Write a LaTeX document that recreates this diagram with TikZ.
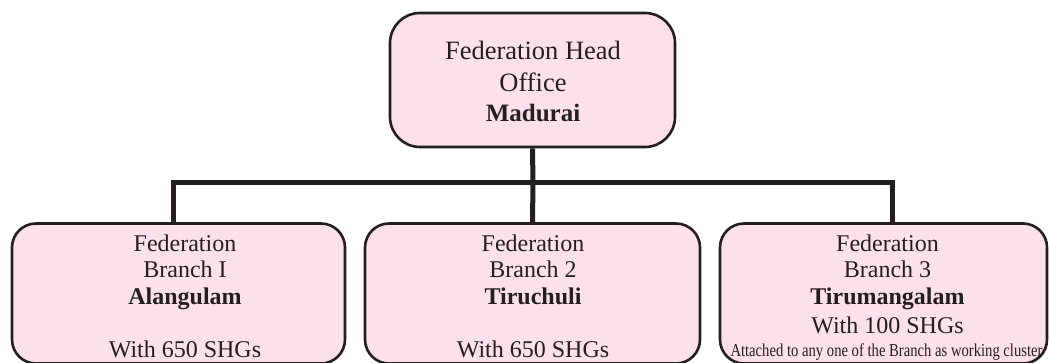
\documentclass[tikz,border=0pt]{standalone}
\usepackage{fontspec}
\setmainfont{Liberation Serif}
\definecolor{boxpink}{RGB}{252,224,236}
\definecolor{boxline}{RGB}{35,31,32}
\begin{document}
\begin{tikzpicture}[x=1pt,y=-1pt,
  box/.style={draw=boxline,line width=2.6pt,fill=boxpink,rounded corners=#1,inner sep=0pt},
  conn/.style={draw=boxline,line width=5pt,line join=miter},
  bigtxt/.style={anchor=base,inner sep=0pt,font=\fontsize{26.5}{26.5}\selectfont,text=boxline},
  txt/.style={anchor=base,inner sep=0pt,font=\fontsize{24}{24}\selectfont,text=boxline}]
\useasboundingbox (0,0) rectangle (1049,363);
% boxes
\node[box=30pt,minimum width=285pt,minimum height=134pt] (top) at (532.5,80) {};
\node[box=24pt,minimum width=333pt,minimum height=140pt] (b1) at (178.5,293.5) {};
\node[box=24pt,minimum width=335pt,minimum height=140pt] (b2) at (532.5,293.5) {};
\node[box=24pt,minimum width=327pt,minimum height=140pt] (b3) at (883.5,293.5) {};
% connectors
\coordinate (bus) at (533,183);
\draw[conn] (top.south) -- (bus);
\draw[conn] ([xshift=-5.5pt]b1.north) |- (bus) -| ([xshift=8.5pt]b3.north);
\draw[conn] (bus) -- (b2.north);
% top text
\node[bigtxt] (t1) at (533,60) {Federation Head};
\node[bigtxt] (t2) at (533,92) {Office};
\node[bigtxt,font=\fontsize{25}{25}\selectfont] (t3) at (533,122) {\textbf{Madurai}};
% branch 1
\node[txt] (a1) at (185,252) {Federation};
\node[txt] (a2) at (185,278) {Branch I};
\node[txt] (a3) at (185,305) {\textbf{Alangulam}};
\node[txt] (a4) at (185,357) {With 650 SHGs};
% branch 2
\node[txt] (c1) at (533,252) {Federation};
\node[txt] (c2) at (533,278) {Branch 2};
\node[txt] (c3) at (533,305) {\textbf{Tiruchuli}};
\node[txt] (c4) at (533,357) {With 650 SHGs};
% branch 3
\node[txt] (d1) at (887.5,252) {Federation};
\node[txt] (d2) at (887.5,278) {Branch 3};
\node[txt] (d3) at (887.5,305) {\textbf{Tirumangalam}};
\node[txt] (d4) at (887.5,333) {With 100 SHGs};
\node[anchor=base,inner sep=0pt,text=boxline] (d5) at (886.5,356) {\resizebox{312pt}{12.8pt}{\fontsize{18}{18}\selectfont Attached to any one of the Branch as working cluster}};
\end{tikzpicture}
\end{document}
